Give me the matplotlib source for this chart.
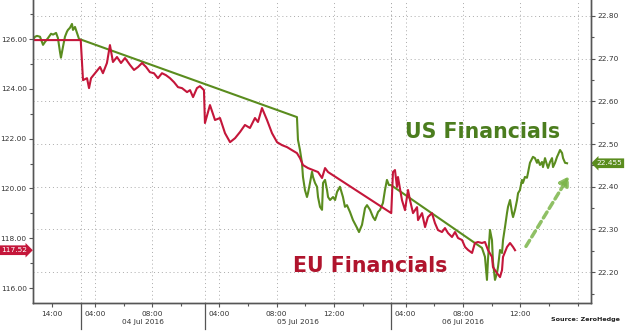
import matplotlib.pyplot as plt
import matplotlib.transforms as mtransforms

# x is "session hours" on a compressed axis (only trading hours shown)
# sessions: label, start hour, end hour
sessions = [("", 12.667, 16.0), ("04 Jul 2016", 3.0, 11.667),
            ("05 Jul 2016", 3.0, 16.0), ("06 Jul 2016", 3.0, 16.94)]

eu_t = [0.00, 3.33, 3.49, 3.77, 3.91, 4.05, 4.33, 4.68, 4.88, 5.16, 5.37, 5.58,
        5.86, 6.14, 6.42, 6.77, 7.05, 7.33, 7.61, 7.89, 8.16, 8.44, 8.72, 9.00,
        9.28, 9.56, 9.84, 10.12, 10.40, 10.75, 10.96, 11.17, 11.44, 11.65, 11.93,
        12.00, 12.35, 12.70, 13.05, 13.40, 13.75, 14.10, 14.45, 14.79, 15.14,
        15.49, 15.70, 15.98, 16.33, 16.68, 17.03, 17.38, 17.73, 18.07, 18.42,
        18.63, 18.84, 19.19, 19.54, 19.89, 20.17, 20.38, 20.59,
        25.00, 25.12, 25.26, 25.40, 25.47, 25.75, 25.96, 26.17, 26.31, 26.52,
        26.80, 26.87, 27.15, 27.36, 27.56, 27.84, 28.05, 28.26, 28.54, 28.75,
        28.96, 29.24, 29.45, 29.66, 29.94, 30.15, 30.36, 30.64, 30.84, 31.05,
        31.33, 31.54, 31.75, 32.03, 32.10, 32.38, 32.59, 32.73, 32.80, 33.08,
        33.29, 33.50, 33.64]
eu_v = [125.96, 125.96, 124.35, 124.43, 124.03, 124.43, 124.63, 124.88, 124.63,
        125.04, 125.76, 125.08, 125.28, 125.04, 125.24, 124.96, 124.76, 124.88,
        125.04, 124.88, 124.67, 124.63, 124.43, 124.63, 124.55, 124.43, 124.27,
        124.07, 124.03, 123.87, 123.95, 123.67, 124.03, 124.11, 123.95,
        122.63, 123.35, 122.75, 122.83, 122.22, 121.86, 122.02, 122.27, 122.55,
        122.43, 122.83, 122.67, 123.23, 122.75, 122.22, 121.86, 121.74, 121.66,
        121.54, 121.42, 121.22, 120.94, 120.82, 120.74, 120.66, 120.42, 120.82,
        120.66,
        119.01, 120.66, 120.74, 120.06, 120.46, 119.53, 119.13, 119.94, 119.53,
        119.01, 119.25, 118.73, 119.01, 118.45, 118.85, 119.01, 118.61, 118.33,
        118.25, 118.41, 118.21, 118.05, 118.25, 118.01, 117.93, 117.65, 117.53,
        117.41, 117.81, 117.85, 117.81, 117.85, 117.53, 117.25, 116.84, 116.60,
        116.44, 116.72, 117.25, 117.65, 117.81, 117.65, 117.52]

us_t = [0.00, 0.14, 0.28, 0.49, 0.70, 0.84, 1.05, 1.26, 1.40, 1.61, 1.74, 1.88,
        1.95, 2.09, 2.23, 2.37, 2.44, 2.58, 2.72, 2.79, 2.93, 3.07, 3.21,
        18.42, 18.49, 18.63, 18.77, 18.84, 18.98, 19.12, 19.19, 19.33, 19.47,
        19.54, 19.68, 19.82, 19.89, 20.03, 20.17, 20.24, 20.38, 20.52, 20.59,
        20.73, 20.94, 21.08, 21.22, 21.42, 21.63, 21.77, 21.91, 22.12, 22.33,
        22.61, 22.75, 22.96, 23.17, 23.31, 23.52, 23.73, 23.87, 24.08, 24.22,
        24.42, 24.56, 24.70, 24.84, 24.98,
        31.33, 31.54, 31.68, 31.75, 31.89, 32.03, 32.10, 32.24, 32.38, 32.45,
        32.59, 32.73, 32.80, 32.94, 33.08, 33.15, 33.29, 33.43, 33.50, 33.64,
        33.78, 33.85, 33.98, 34.12, 34.19, 34.33, 34.47, 34.54, 34.68, 34.89,
        35.03, 35.17, 35.24, 35.38, 35.52, 35.59, 35.73, 35.87, 35.94, 36.08,
        36.22, 36.29, 36.43, 36.57, 36.64, 36.78, 36.92, 36.99, 37.13, 37.27]
us_v = [22.744, 22.751, 22.753, 22.751, 22.732, 22.739, 22.748, 22.758, 22.756,
        22.760, 22.748, 22.716, 22.702, 22.727, 22.751, 22.763, 22.767, 22.772,
        22.781, 22.767, 22.774, 22.760, 22.746,
        22.563, 22.510, 22.486, 22.456, 22.423, 22.392, 22.376, 22.385, 22.409,
        22.435, 22.423, 22.409, 22.400, 22.376, 22.353, 22.346, 22.409, 22.416,
        22.392, 22.376, 22.369, 22.376, 22.369, 22.388, 22.400, 22.376, 22.353,
        22.357, 22.341, 22.322, 22.304, 22.294, 22.311, 22.350, 22.357, 22.346,
        22.329, 22.322, 22.341, 22.346, 22.362, 22.392, 22.416, 22.404, 22.404,
        22.257, 22.236, 22.182, 22.229, 22.299, 22.275, 22.224, 22.182, 22.198,
        22.212, 22.252, 22.245, 22.275, 22.306, 22.339, 22.353, 22.369, 22.339,
        22.329, 22.346, 22.369, 22.385, 22.392, 22.416, 22.409, 22.423, 22.421,
        22.432, 22.456, 22.470, 22.467, 22.456, 22.463, 22.451, 22.458, 22.446,
        22.467, 22.451, 22.444, 22.458, 22.467, 22.446, 22.456, 22.470, 22.475,
        22.486, 22.479, 22.467, 22.456, 22.455]

eu_last = 117.52
us_last = 22.455

RED = "#c4163a"
GREEN = "#5a8c1e"
GRAY = "#555555"

# session offsets on the compressed axis
offsets = []
acc = 0.0
for _, s, e in sessions:
    offsets.append(acc)
    acc += e - s
x_end = acc


def pos(day, hour):
    return offsets[day] + hour - sessions[day][1]


fig = plt.figure(figsize=(6.25, 3.31), dpi=100)
ax = fig.add_axes([0.0528, 0.0846, 0.8928, 0.9154])
ax2 = ax.twinx()

ax2.plot(us_t, us_v, color=GREEN, lw=1.5)
ax.plot(eu_t, eu_v, color=RED, lw=1.5)
ax.set_zorder(ax2.get_zorder() + 1)
ax.patch.set_visible(False)

ax.set_xlim(0, x_end)
ax.set_ylim(115.40, 127.57)
ax2.set_ylim(22.128, 22.837)

# y axes
ax.set_yticks([116, 118, 120, 122, 124, 126])
ax.set_yticks([117, 119, 121, 123, 125, 127], minor=True)
ax.yaxis.set_major_formatter(plt.FormatStrFormatter("%.2f"))
ax2.set_yticks([22.2, 22.3, 22.4, 22.5, 22.6, 22.7, 22.8])
ax2.set_yticks([22.15, 22.25, 22.35, 22.45, 22.55, 22.65, 22.75], minor=True)
ax2.yaxis.set_major_formatter(plt.FormatStrFormatter("%.2f"))

# x axis ticks
major_x, major_lab, minor_x, grid_x, seps = [pos(0, 14)], ["14:00"], [], [], []
for d in (1, 2, 3):
    seps.append(offsets[d])
    for h in range(4, 17, 2):
        if h > sessions[d][2] + 0.01:
            break
        if h % 4 == 0:
            grid_x.append(pos(d, h))
            if h <= 12:
                major_x.append(pos(d, h))
                major_lab.append(f"{h:02d}:00")
            else:
                minor_x.append(pos(d, h))
        else:
            minor_x.append(pos(d, h))
ax.set_xticks(major_x)
ax.set_xticklabels(major_lab)
ax.set_xticks(minor_x, minor=True)

for a in (ax, ax2):
    a.spines["top"].set_visible(False)
    for side in ("left", "right", "bottom"):
        a.spines[side].set_color(GRAY)
        a.spines[side].set_linewidth(1.0)
    a.tick_params(which="both", direction="out", colors=GRAY, labelcolor="#333333",
                  labelsize=5.3, width=0.8)
    a.tick_params(which="major", length=3, pad=1.5)
    a.tick_params(which="minor", length=2)
ax.tick_params(axis="x", pad=2.5)

# grid
for g in ax2.get_yticks():
    ax2.axhline(g, color="#aaaaaa", lw=0.7, ls=(0, (1, 3)), zorder=0)
for g in grid_x + seps:
    ax2.axvline(g, color="#aaaaaa", lw=0.7, ls=(0, (1, 3)), zorder=0)

# day separators below the axis and date labels
trans = mtransforms.blended_transform_factory(ax.transData, ax.transAxes)
for s in seps:
    ax.plot([s, s], [0, -0.085], color=GRAY, lw=0.9, transform=trans, clip_on=False)
date_x = [(offsets[1] + offsets[2]) / 2, (offsets[2] + offsets[3]) / 2,
          (offsets[3] + 34.95) / 2]
for (lab, _, _), xc in zip(sessions[1:], date_x):
    ax.text(xc, -0.063, lab, transform=trans, ha="center", va="center",
            fontsize=5.3, color="#333333")

fig.text(0.992, 0.036, "Source: ZeroHedge", ha="right", va="center",
         fontsize=4.6, color="#222222", fontweight="bold")

# last value boxes
ax.annotate(f"{eu_last:.2f}", xy=(0, eu_last), xycoords=("axes fraction", "data"),
            xytext=(-4, 0), textcoords="offset points", ha="right", va="center",
            fontsize=5.3, color="white", annotation_clip=False,
            bbox=dict(boxstyle="rarrow,pad=0.25", fc=RED, ec="none"))
ax2.annotate(f"{us_last:.3f}", xy=(1, us_last), xycoords=("axes fraction", "data"),
             xytext=(4, 0), textcoords="offset points", ha="left", va="center",
             fontsize=5.3, color="white", annotation_clip=False,
             bbox=dict(boxstyle="larrow,pad=0.25", fc=GREEN, ec="none"))

# annotations
ax2.text(31.40, 22.528, "US Financials", color="#4b7d1e", fontsize=14.8,
         fontweight="bold", ha="center", va="center")
ax.text(23.52, 116.88, "EU Financials", color="#b0142d", fontsize=14.8,
        fontweight="bold", ha="center", va="center")
ax2.annotate("", xy=(37.5, 22.43), xytext=(34.3, 22.255),
             arrowprops=dict(arrowstyle="-|>,head_length=0.5,head_width=0.3",
                             color="#7cb54a", lw=2.5, ls=(0, (2, 1.2)), alpha=0.85))

fig.savefig("out.png", dpi=100)
